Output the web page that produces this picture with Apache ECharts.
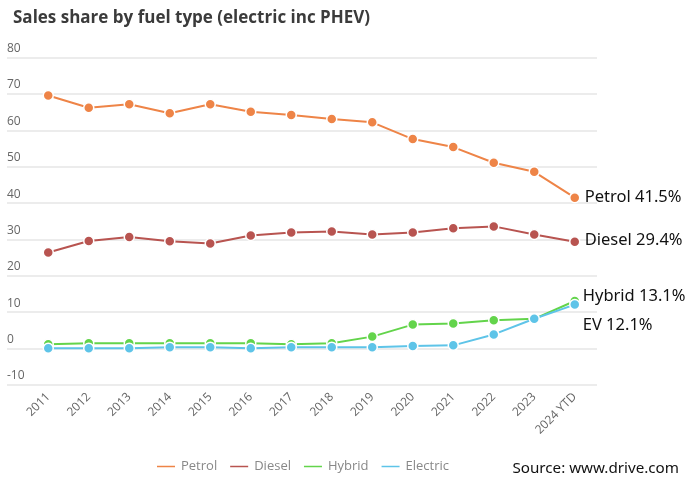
<!DOCTYPE html>
<html>
<head>
<meta charset="utf-8">
<script src="https://cdn.jsdelivr.net/npm/echarts@6/dist/echarts.min.js"></script>
<style>html,body{margin:0;padding:0;background:#fff}#c{width:686px;height:483px}</style>
</head>
<body>
<div id="c"></div>
<script>
var categories = ['2011','2012','2013','2014','2015','2016','2017','2018','2019','2020','2021','2022','2023','2024 YTD'];
var petrol   = [69.6, 66.2, 67.2, 64.7, 67.2, 65.1, 64.2, 63.1, 62.2, 57.6, 55.4, 51.1, 48.6, 41.5];
var diesel   = [26.4, 29.6, 30.7, 29.5, 28.9, 31.1, 31.9, 32.2, 31.4, 31.9, 33.1, 33.6, 31.4, 29.4];
var hybrid   = [1.2, 1.5, 1.5, 1.5, 1.5, 1.5, 1.2, 1.5, 3.3, 6.6, 6.9, 7.8, 8.2, 13.1];
var electric = [0.1, 0.1, 0.1, 0.4, 0.4, 0.1, 0.4, 0.4, 0.35, 0.7, 0.9, 3.9, 8.2, 12.1];
var seriesNames = ['Petrol','Diesel','Hybrid','Electric'];
var endLabels = ['Petrol 41.5%','Diesel 29.4%','Hybrid 13.1%','EV 12.1%'];
var yTicks = {min: -10, max: 80, interval: 10};

var colors = ['#ee8447','#b85450','#63d44b','#5ec4e8'];
var labelOffsets = [[0,0],[0,-1],[-2,-5],[-2,21]];
var dataSets = [petrol, diesel, hybrid, electric];

var chart = echarts.init(document.getElementById('c'));
var series = dataSets.map(function(d, i){
  return {
    name: seriesNames[i], type: 'line', xAxisIndex: 1, yAxisIndex: 1,
    data: d, symbol: 'circle', symbolSize: 10, showSymbol: true,
    z: 2 + i,
    lineStyle: {width: 2, color: colors[i]},
    itemStyle: {color: colors[i], borderColor: '#fff', borderWidth: 1.5},
    endLabel: {
      show: true, formatter: endLabels[i], distance: 10, offset: labelOffsets[i],
      color: '#111', fontSize: 16.5, fontFamily: 'Noto Sans'
    },
    emphasis: {disabled: true}
  };
});

chart.setOption({
  animation: false,
  color: colors,
  title: [{
    text: 'Sales share by fuel type (electric inc PHEV)', left: 8, top: 5,
    textStyle: {fontSize: 17, fontWeight: 'bold', color: '#3b3b3b', fontFamily: 'Open Sans'}
  },{
    text: 'Source: www.drive.com', right: 2, bottom: 2,
    textStyle: {fontSize: 15.2, fontWeight: 'normal', color: '#111', fontFamily: 'Noto Sans'}
  }],
  legend: {
    data: seriesNames, left: 150, top: 455, icon: 'rect', itemWidth: 20, itemHeight: 3.5, itemGap: 11,
    textStyle: {color: '#888', fontSize: 13, fontFamily: 'Open Sans'}
  },
  grid: [
    {left: 7, right: 89, top: 57.6, bottom: 98},
    {left: 28, right: 91, top: 57.6, bottom: 98}
  ],
  xAxis: [
    {type: 'value', gridIndex: 0, show: false, min: 0, max: 1},
    {type: 'category', gridIndex: 1, data: categories, boundaryGap: true,
     axisLine: {show: false}, axisTick: {show: false},
     axisLabel: {rotate: 45, color: '#666', fontSize: 12, margin: 10, interval: 0, fontFamily: 'Open Sans'}}
  ],
  yAxis: [
    {type: 'value', gridIndex: 0, min: yTicks.min, max: yTicks.max, interval: yTicks.interval,
     axisLine: {show: false}, axisTick: {show: false},
     splitLine: {lineStyle: {color: '#e6e6e6', width: 1.5}},
     axisLabel: {inside: true, verticalAlign: 'bottom', margin: 0, padding: [0,0,3,0], color: '#666', fontSize: 12, fontFamily: 'Open Sans'}},
    {type: 'value', gridIndex: 1, min: yTicks.min, max: yTicks.max, interval: yTicks.interval, show: false, splitLine: {show: false}}
  ],
  series: series
});
</script>
</body>
</html>
